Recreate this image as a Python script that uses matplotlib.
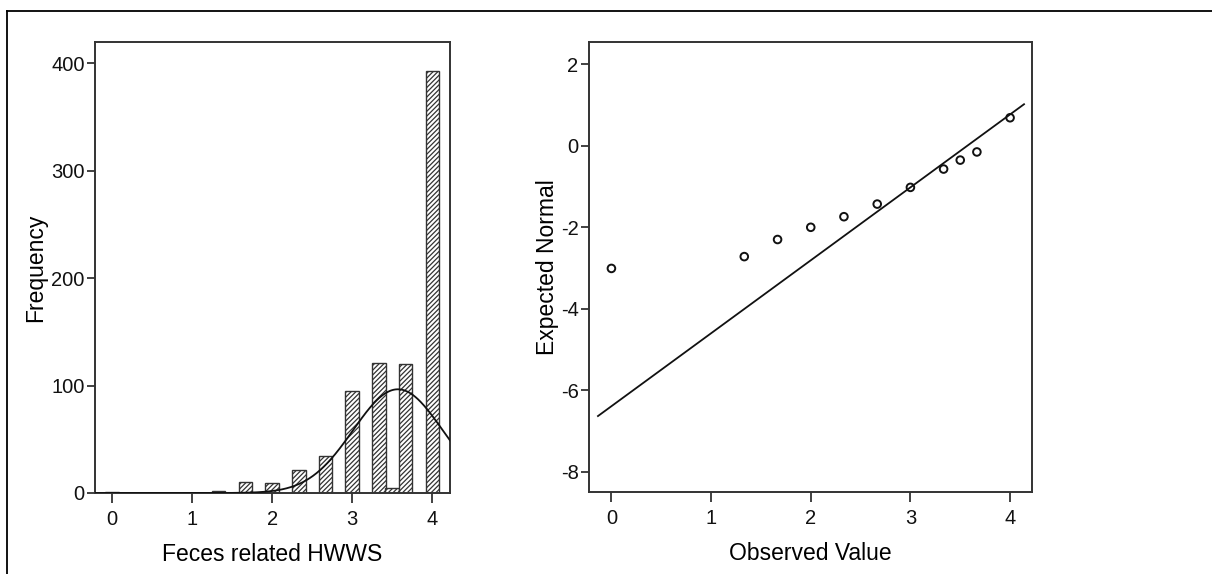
import numpy as np
import matplotlib
matplotlib.use("Agg")
import matplotlib.pyplot as plt
from matplotlib.lines import Line2D

plt.rcParams["font.family"] = ["Liberation Sans", "DejaVu Sans"]
plt.rcParams["hatch.linewidth"] = 0.9
plt.rcParams["axes.unicode_minus"] = False

# histogram of score values (SPSS bins 1/6 wide)
values = [0, 1.333, 1.667, 2, 2.333, 2.667, 3, 3.333, 3.5, 3.667, 4]
counts = [1, 2, 10, 9, 21, 34, 95, 121, 5, 120, 393]
bin_width = 1 / 6

# Q-Q plot: expected normal value for each observed value
qq_observed = [0, 1.333, 1.667, 2, 2.333, 2.667, 3, 3.333, 3.5, 3.667, 4]
qq_expected = [-3.01, -2.72, -2.30, -2.0, -1.74, -1.43, -1.02, -0.57, -0.35, -0.15, 0.69]
line_x = [-0.135, 4.14]

ink = "#333333"
v = np.array(values)
c = np.array(counts)
n = c.sum()
mean = (v * c).sum() / n
sd = np.sqrt(((v - mean) ** 2 * c).sum() / (n - 1))

fig = plt.figure(figsize=(12.12, 5.74), dpi=100)
ax1 = fig.add_axes([95 / 1212, 1 - 493 / 574, 355 / 1212, 451 / 574])
ax2 = fig.add_axes([589 / 1212, 1 - 492 / 574, 443 / 1212, 450 / 574])

# left: histogram with normal curve
ax1.bar(values, counts, width=0.17, color="white", edgecolor=ink,
        hatch="///////", linewidth=1.0, zorder=2)
xs = np.linspace(-0.21, 4.22, 400)
curve = n * bin_width / (sd * np.sqrt(2 * np.pi)) * np.exp(-(xs - mean) ** 2 / (2 * sd ** 2))
ax1.plot(xs, curve, color="#111111", lw=1.3, zorder=3)
ax1.set_xlim(-0.21, 4.22)
ax1.set_ylim(0, 420)
ax1.set_xticks([0, 1, 2, 3, 4])
ax1.set_yticks([0, 100, 200, 300, 400])
ax1.set_xlabel("Feces related HWWS", fontsize=16.5, labelpad=10)
ax1.set_ylabel("Frequency", fontsize=16.5, labelpad=3)

# right: Q-Q plot
ax2.scatter(qq_observed, qq_expected, s=30, facecolors="none",
            edgecolors="#111111", linewidths=1.4, zorder=3)
lx = np.array(line_x)
ax2.plot(lx, (lx - mean) / sd, color="#111111", lw=1.3)
ax2.set_xlim(-0.225, 4.22)
ax2.set_ylim(-8.5, 2.55)
ax2.set_xticks([0, 1, 2, 3, 4])
ax2.set_yticks([2, 0, -2, -4, -6, -8])
ax2.set_xlabel("Observed Value", fontsize=16.5, labelpad=10)
ax2.set_ylabel("Expected Normal", fontsize=16.5, labelpad=1)

for ax in (ax1, ax2):
    for s in ax.spines.values():
        s.set_color(ink)
        s.set_linewidth(1.4)
    ax.tick_params(direction="out", width=1.3, color=ink,
                   labelsize=14.5, labelcolor="#111111")
    ax.tick_params(axis="y", length=6, pad=1.5)
    ax.tick_params(axis="x", length=7, pad=5)

# partial frame around the figure (top and left only)
fig.add_artist(Line2D([7 / 1212, 1], [1 - 11 / 574] * 2, color="black", lw=1.3))
fig.add_artist(Line2D([7 / 1212] * 2, [0, 1 - 11 / 574], color="black", lw=1.3))

fig.savefig("out.png", dpi=100)
